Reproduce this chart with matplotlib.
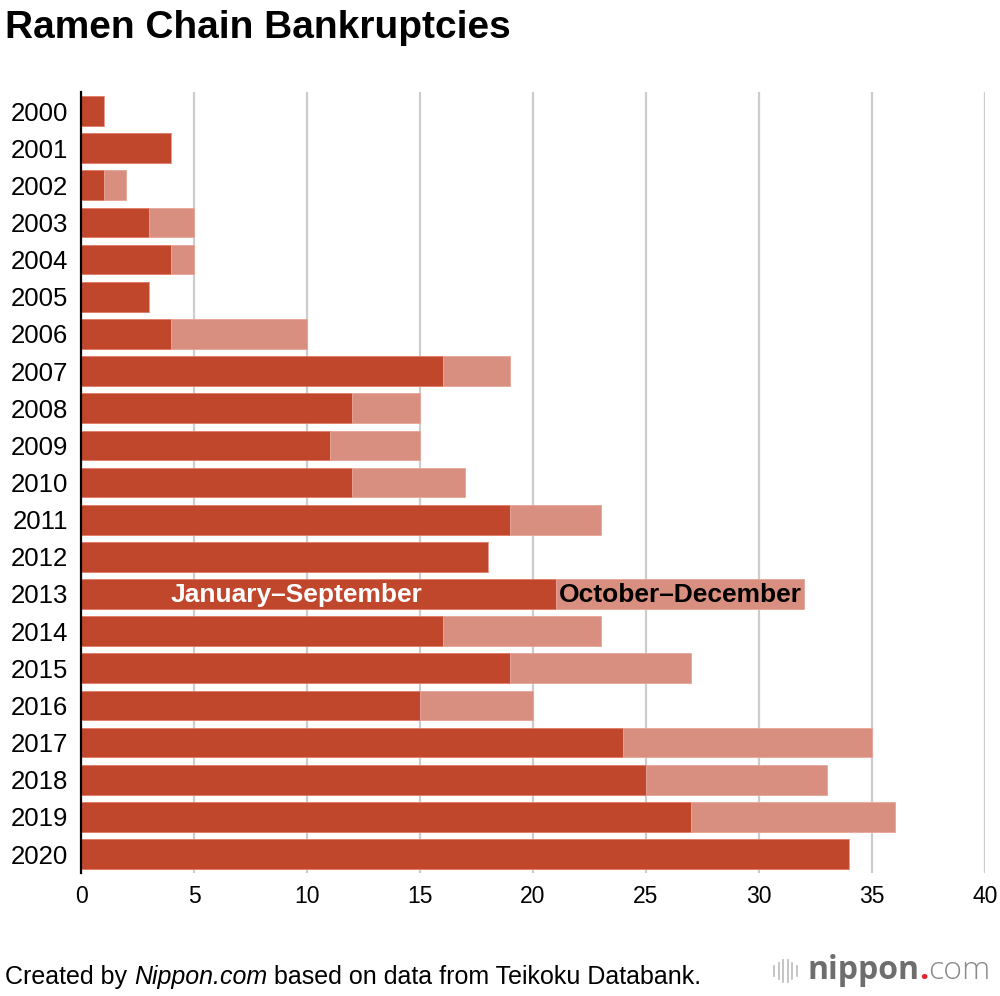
import numpy as np
import matplotlib.pyplot as plt

plt.rcParams['font.family'] = ['Liberation Sans', 'DejaVu Sans']

years = [str(y) for y in range(2000, 2021)]
jan_sep = [1, 4, 1, 3, 4, 3, 4, 16, 12, 11, 12, 19, 18, 21, 16, 19, 15, 24, 25, 27, 34]
oct_dec = [0, 0, 1, 2, 1, 0, 6, 3, 3, 4, 5, 4, 0, 11, 7, 8, 5, 11, 8, 9, 0]

dark = '#c0462c'
light = '#d98f80'

fig = plt.figure(figsize=(10, 9.96), dpi=100)
ax = fig.add_axes([0.081, 0.1239, 0.904, 0.7833])

pos = np.arange(len(years))
ax.barh(pos, jan_sep, height=0.8, color=dark, edgecolor='#e07a66', linewidth=0.6, zorder=3)
ax.barh(pos, oct_dec, left=jan_sep, height=0.8, color=light, edgecolor='#e8a597', linewidth=0.6, zorder=3)

ax.set_xlim(0, 40)
ax.set_ylim(20.5, -0.5)
ax.set_xticks(range(0, 41, 5))
ax.set_yticks(pos)
ax.set_yticklabels(years)
ax.tick_params(axis='both', length=0)
ax.tick_params(axis='x', pad=9, labelsize=16.5)
ax.tick_params(axis='y', pad=9, labelsize=18.5)
for s in ['top', 'right', 'bottom']:
    ax.spines[s].set_visible(False)
ax.spines['left'].set_linewidth(1.6)
ax.spines['left'].set_zorder(4)
for v in range(5, 41, 5):
    ax.axvline(v, color='#cccccc', linewidth=1.6, zorder=1)

i13 = years.index('2013')
ax.text(9.55, i13 + 0.03, 'January–September', color='white', fontsize=19,
        fontweight='bold', ha='center', va='center', zorder=5)
ax.text(jan_sep[i13] + 0.15, i13 + 0.03, 'October–December', color='black', fontsize=19,
        fontweight='bold', ha='left', va='center', zorder=5)

fig.text(0.005, 0.972, 'Ramen Chain Bankruptcies', fontsize=28, fontweight='bold',
         ha='left', va='center')

renderer = fig.canvas.get_renderer()


def chain(x, y, pieces):
    # place text pieces one after another on the same baseline
    for txt, kw in pieces:
        t = fig.text(x, y, txt, ha='left', va='baseline', **kw)
        bb = t.get_window_extent(renderer)
        x = x + bb.width / fig.bbox.width


chain(0.005, 0.012, [('Created by ', dict(fontsize=18)),
                      ('Nippon.com', dict(fontsize=18, style='italic')),
                      (' based on data from Teikoku Databank.', dict(fontsize=18))])

# nippon.com logo
for k, h in enumerate([0.010, 0.016, 0.022, 0.022, 0.016, 0.010]):
    x = 0.774 + k * 0.0045
    fig.add_artist(plt.Line2D([x, x], [0.025 - h / 2, 0.025 + h / 2],
                              color='#bbbbbb', linewidth=1.2))
chain(0.807, 0.0175, [('nippon', dict(fontsize=23, fontweight='bold', color='#6e6e6e',
                                      family='Open Sans')),
                      ('.', dict(fontsize=23, fontweight='bold', color='#e8202a',
                                 family='Open Sans')),
                      ('com', dict(fontsize=23, fontweight='light', color='#8a8a8a',
                                   family='Open Sans'))])

fig.savefig('out.png', dpi=100)
